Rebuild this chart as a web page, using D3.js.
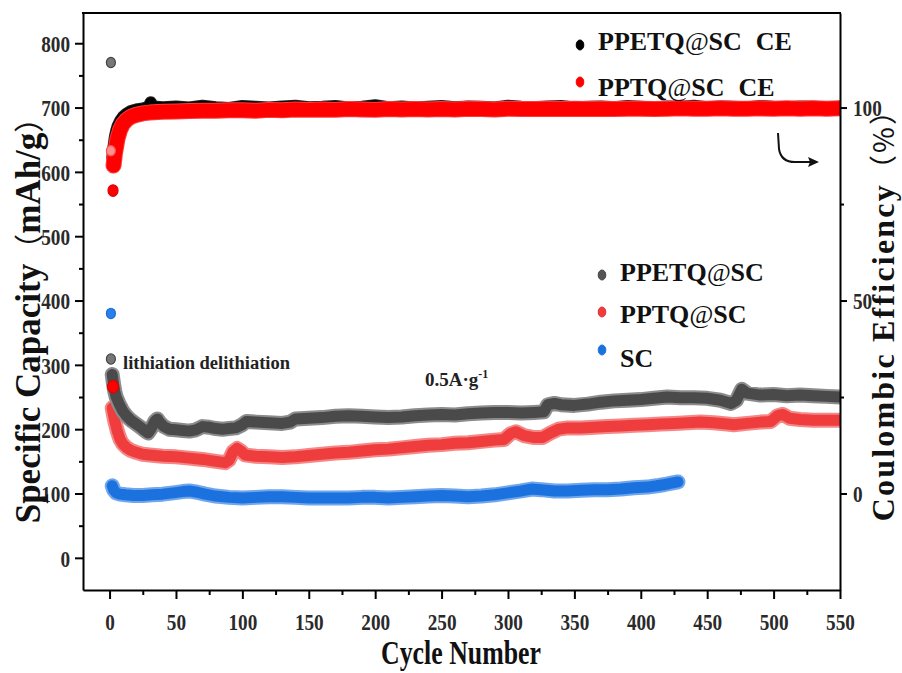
<!DOCTYPE html>
<html><head><meta charset="utf-8">
<script src="https://cdn.jsdelivr.net/npm/d3@7/dist/d3.min.js"></script>
<style>
html,body{margin:0;padding:0;background:#fff;}
svg{display:block;}
</style></head>
<body>
<svg id="chart" width="902" height="673"></svg>
<script>
// ---------------- DATA ----------------
const xTicks = [0,50,100,150,200,250,300,350,400,450,500,550];
const xMinorTicks = [25,75,125,175,225,275,325,375,425,475,525];
const yLeftTicks = [0,100,200,300,400,500,600,700,800];
const yLeftMinorTicks = [50,150,250,350,450,550,650,750];
const yRightTicks = [0,50,100];
const yRightMinorTicks = [25,75];

// first-cycle points [cycle, value]
const ppetqCapFirst = [[1,770],[1,309]];
const pptqCapFirst = [[2.6,266]];
const scCapFirst = [[1,380]];
const pptqCEFirst = [[2.6,78.5],[1,88.8]];

// PPETQ@SC specific capacity (mAh/g)
const ppetqCap = [[2,285],[3,270],[4,258],[5,250],[7,240],[10,228],[13,220],[16,214],[20,208],[24,202],[27,197],[29,194],[31,200],[34,212],[36,216],[38,210],[41,204],[45,200],[50,199],[55,198],[60,197],[65,199],[70,204],[75,203],[80,201],[85,200],[90,201],[95,202],[100,207],[103,212],[110,211],[120,210],[130,209],[136,211],[140,216],[150,217],[160,218],[170,220],[180,221],[190,220],[200,219],[210,218],[220,219],[230,221],[240,222],[250,223],[260,222],[270,224],[280,225],[290,226],[300,226],[310,225],[320,226],[327,227],[330,238],[335,240],[340,238],[350,237],[360,239],[370,242],[380,244],[390,245],[400,246],[410,248],[420,250],[430,249],[440,249],[450,248],[460,245],[468,240],[472,245],[476,262],[480,256],[490,253],[500,254],[510,252],[520,253],[530,252],[540,251],[550,250]];

// PPTQ@SC specific capacity (mAh/g)
const pptqCap = [[2,233],[3,222],[4,212],[5,204],[6,196],[8,184],[10,177],[13,171],[16,167],[20,164],[25,161],[30,160],[40,158],[50,157],[60,155],[70,153],[80,150],[87,148],[90,152],[93,165],[96,170],[99,166],[102,160],[110,158],[120,157],[130,156],[140,157],[150,159],[160,161],[170,163],[180,164],[190,166],[200,168],[210,169],[220,171],[230,173],[240,175],[250,176],[260,178],[270,179],[280,181],[290,183],[297,184],[302,193],[306,196],[312,190],[320,187],[326,187],[332,194],[338,200],[345,202],[355,202],[365,203],[375,204],[385,205],[395,206],[405,207],[415,208],[425,209],[435,210],[445,211],[455,210],[465,208],[470,207],[480,209],[490,211],[498,212],[503,221],[507,223],[512,217],[520,215],[530,214],[540,214],[550,214]];

// SC specific capacity (mAh/g)
const scCap = [[2,112],[3,106],[5,101],[8,99],[12,98],[18,97],[25,97],[32,98],[40,99],[48,101],[55,103],[60,104],[66,102],[72,99],[80,96],[90,94],[100,93],[110,94],[120,95],[130,95],[140,94],[150,93],[160,93],[170,93],[180,93],[190,94],[200,94],[210,93],[220,94],[230,95],[240,96],[250,97],[260,96],[270,95],[280,96],[290,98],[300,101],[310,104],[318,107],[325,106],[335,104],[345,104],[355,105],[365,106],[375,106],[385,107],[395,109],[405,110],[412,112],[418,114],[423,116],[428,118]];

// Coulombic efficiency (%)
const ppetqCE = [[2,87],[3,90],[4,92.5],[5,94],[6,95.2],[8,96.6],[10,97.6],[13,98.5],[16,99.1],[20,99.5],[25,99.8],[29,100.1],[31,101.4],[33,100.3],[40,100.1],[50,100.3],[60,100.0],[70,100.5],[80,100.1],[90,99.9],[100,100.4],[110,100.2],[120,100.0],[130,100.3],[140,100.5],[150,100.1],[160,100.2],[170,100.4],[180,100.0],[190,100.2],[200,100.6],[210,100.1],[220,100.3],[230,100.0],[240,100.2],[250,100.4],[260,100.1],[270,100.3],[280,100.2],[290,100.0],[300,100.5],[310,100.2],[320,100.1],[330,100.3],[340,100.4],[350,100.0],[360,100.2],[370,100.3],[380,100.1],[390,100.4],[400,100.2],[410,100.0],[420,100.3],[430,100.2],[440,100.5],[450,100.1],[460,100.3],[470,100.2],[480,100.0],[490,100.4],[500,100.2],[510,100.1],[520,100.3],[530,100.2],[540,100.0],[550,100.2]];
const pptqCE = [[3,85],[4,88],[5,90],[6,92],[8,94.3],[10,95.7],[13,96.9],[16,97.6],[20,98.1],[25,98.5],[30,98.7],[40,98.9],[50,99.0],[60,99.1],[70,99.2],[80,99.2],[90,99.3],[100,99.3],[110,99.2],[120,99.4],[130,99.3],[140,99.5],[150,99.4],[160,99.5],[170,99.4],[180,99.6],[190,99.5],[200,99.4],[210,99.6],[220,99.5],[230,99.6],[240,99.5],[250,99.6],[260,99.5],[270,99.7],[280,99.6],[290,99.5],[300,99.7],[310,99.6],[320,99.6],[330,99.7],[340,99.6],[350,99.7],[360,99.6],[370,99.7],[380,99.6],[390,99.7],[400,99.7],[410,99.6],[420,99.7],[430,99.8],[440,99.7],[450,99.7],[460,99.8],[470,99.7],[480,99.7],[490,99.8],[500,99.7],[510,99.8],[520,99.7],[530,99.8],[540,99.7],[550,99.8]];

// ---------------- CHART ----------------
const svg = d3.select("#chart");
const L = 83, R = 840, T = 13, B = 590;
const serif = "'Liberation Serif','Times New Roman',serif";
const cjk = "'Noto Sans CJK SC',sans-serif";

const x = d3.scaleLinear().domain([-20, 550]).range([L, R]);
const yL = d3.scaleLinear().domain([-50, 847]).range([B, T]);
const yR = d3.scaleLinear().domain([-25, 124.5]).range([B, T]);

svg.append("defs").append("clipPath").attr("id","plotclip")
  .append("rect").attr("x",L).attr("y",T).attr("width",R-L).attr("height",B-T);

const plot = svg.append("g").attr("clip-path","url(#plotclip)");

function band(data, yScale, outer, outerW, inner, innerW) {
  const line = d3.line().x(d => x(d[0])).y(d => yScale(d[1])).curve(d3.curveLinear);
  plot.append("path").datum(data).attr("d", line).attr("fill","none")
    .attr("stroke", outer).attr("stroke-width", outerW)
    .attr("stroke-linejoin","round").attr("stroke-linecap","round");
  plot.append("path").datum(data).attr("d", line).attr("fill","none")
    .attr("stroke", inner).attr("stroke-width", innerW)
    .attr("stroke-linejoin","round").attr("stroke-linecap","round");
}

// capacity bands
band(scCap, yL, "#6fa6ec", 15, "#1b72de", 11);
band(pptqCap, yL, "#f48787", 15, "#ef3d3d", 11);
band(ppetqCap, yL, "#8c8c8c", 15, "#4a4a4a", 11);
// CE bands
band(ppetqCE, yR, "#222", 12, "#000", 10);
band(pptqCE, yR, "#ff3a3a", 16, "#ff0000", 14);

// first-cycle points
function pts(data, yScale, fill, stroke, r) {
  plot.selectAll(null).data(data).enter().append("ellipse")
    .attr("cx", d => x(d[0])).attr("cy", d => yScale(d[1]))
    .attr("rx", r).attr("ry", r*1.15)
    .attr("fill", fill).attr("stroke", stroke).attr("stroke-width", 1.2);
}
pts(ppetqCapFirst, yL, "#777", "#444", 4.5);
pts(scCapFirst, yL, "#2a80ea", "#1a6fd8", 4.5);
pts(pptqCapFirst, yL, "#ff0000", "#e00000", 5.5);
pts([pptqCEFirst[0]], yR, "#ff0000", "#e00000", 5);
pts([pptqCEFirst[1]], yR, "#ff9090", "#ff5050", 4.5);

// ---------------- AXES ----------------
const axisStroke = 2;
function styleAxis(g) {
  g.select(".domain").attr("stroke","#000").attr("stroke-width",axisStroke);
  g.selectAll(".tick line").attr("stroke","#000").attr("stroke-width",axisStroke);
}
const sx = 0.8, tickFont = 24;

// left
const gl = svg.append("g").attr("transform",`translate(${L},0)`)
  .call(d3.axisLeft(yL).tickValues(yLeftTicks).tickSize(8).tickSizeOuter(0));
styleAxis(gl);
gl.selectAll(".tick text").attr("font-family",serif).attr("font-size",tickFont).attr("font-weight","bold")
  .attr("fill","#2a2a2a").attr("x", -13/sx).attr("dy","0.35em").attr("transform",`scale(${sx},1)`);
svg.append("g").attr("transform",`translate(${L},0)`)
  .call(d3.axisLeft(yL).tickValues(yLeftMinorTicks).tickSize(4).tickSizeOuter(0).tickFormat(""))
  .call(g => { g.select(".domain").remove(); g.selectAll("line").attr("stroke","#000").attr("stroke-width",axisStroke); });

// right
const gr = svg.append("g").attr("transform",`translate(${R},0)`)
  .call(d3.axisRight(yR).tickValues(yRightTicks).tickSize(7).tickSizeOuter(0));
styleAxis(gr);
gr.selectAll(".tick text").attr("font-family",serif).attr("font-size",tickFont).attr("font-weight","bold")
  .attr("fill","#2a2a2a").attr("x", 13/sx).attr("dy","0.35em").attr("transform",`scale(${sx},1)`);
svg.append("g").attr("transform",`translate(${R},0)`)
  .call(d3.axisRight(yR).tickValues(yRightMinorTicks).tickSize(4).tickSizeOuter(0).tickFormat(""))
  .call(g => { g.select(".domain").remove(); g.selectAll("line").attr("stroke","#000").attr("stroke-width",axisStroke); });

// bottom
const gb = svg.append("g").attr("transform",`translate(0,${B})`)
  .call(d3.axisBottom(x).tickValues(xTicks).tickSize(9).tickSizeOuter(0));
styleAxis(gb);
gb.selectAll(".tick text").attr("font-family",serif).attr("font-size",tickFont).attr("font-weight","bold")
  .attr("fill","#2a2a2a").attr("y", 40).attr("dy","0").attr("transform",`scale(${sx},1)`);
svg.append("g").attr("transform",`translate(0,${B})`)
  .call(d3.axisBottom(x).tickValues(xMinorTicks).tickSize(5).tickSizeOuter(0).tickFormat(""))
  .call(g => { g.select(".domain").remove(); g.selectAll("line").attr("stroke","#000").attr("stroke-width",axisStroke); });

// top frame
svg.append("line").attr("x1",L-1).attr("x2",R+1).attr("y1",T).attr("y2",T)
  .attr("stroke","#000").attr("stroke-width",axisStroke);

// ---------------- TEXT ----------------
// axis titles
svg.append("text").attr("transform","translate(461,664) scale(0.76,1)")
  .attr("text-anchor","middle").attr("font-family",serif).attr("font-weight","bold")
  .attr("font-size",34).attr("fill","#111").text("Cycle Number");

const ylab = svg.append("text").attr("transform","translate(40,313) rotate(-90)")
  .attr("text-anchor","middle").attr("font-family",serif).attr("font-weight","bold")
  .attr("font-size",35).attr("fill","#111");
ylab.append("tspan").text("Specific Capacity");
ylab.append("tspan").attr("font-family",cjk).attr("font-weight","normal").attr("font-size",30).text("（");
ylab.append("tspan").text("mAh/g");
ylab.append("tspan").attr("font-family",cjk).attr("font-weight","normal").attr("font-size",30).text("）");

const yrlab = svg.append("text").attr("transform","translate(894,308) rotate(-90)")
  .attr("text-anchor","middle").attr("font-family",serif).attr("font-weight","bold")
  .attr("font-size",32).attr("letter-spacing",2.2).attr("fill","#111");
yrlab.append("tspan").text("Coulombic Efficiency");
yrlab.append("tspan").attr("font-family",cjk).attr("font-weight","normal").attr("font-size",28).text("（%）");

// legends
function legendItem(cx, cy, color, stroke, tx, ty, parts) {
  svg.append("ellipse").attr("cx",cx).attr("cy",cy).attr("rx",3.8).attr("ry",5)
    .attr("fill",color).attr("stroke",stroke).attr("stroke-width",1);
  const t = svg.append("text").attr("x",tx).attr("y",ty).attr("font-family",serif)
    .attr("font-weight","bold").attr("font-size",26).attr("fill","#111");
  parts.forEach(p => {
    const s = t.append("tspan").text(p.t);
    if (p.normal) s.attr("font-weight","normal").attr("font-style","italic");
    if (p.dx) s.attr("dx", p.dx);
  });
}
legendItem(580, 45, "#000", "#000", 598, 50, [{t:"PPETQ"},{t:"@",normal:true},{t:"SC"},{t:"CE",dx:14}]);
legendItem(580, 82, "#ff0000", "#ff0000", 598, 96, [{t:"PPTQ"},{t:"@",normal:true},{t:"SC"},{t:"CE",dx:14}]);
legendItem(602, 275, "#555", "#444", 620, 281, [{t:"PPETQ"},{t:"@",normal:true},{t:"SC"}]);
legendItem(602, 312, "#f03c3c", "#e03030", 620, 323, [{t:"PPTQ"},{t:"@",normal:true},{t:"SC"}]);
legendItem(602, 350, "#1b72de", "#1b72de", 620, 367, [{t:"SC"}]);

// annotations
svg.append("text").attr("x",123).attr("y",369).attr("font-family",serif).attr("font-weight","bold")
  .attr("font-size",18.5).attr("fill","#222").text("lithiation delithiation");
const rate = svg.append("text").attr("x",425).attr("y",386).attr("font-family",serif).attr("font-weight","bold")
  .attr("font-size",19).attr("fill","#222");
rate.append("tspan").text("0.5A·g");
rate.append("tspan").attr("font-size",12).attr("dy",-8).text("-1");

// arrow to right axis
svg.append("path").attr("d","M778,133 L779,149 Q781,162 795,162 L810,162")
  .attr("fill","none").attr("stroke","#111").attr("stroke-width",2);
svg.append("path").attr("d","M819,162 L808,157 L810,162 L808,167 Z").attr("fill","#111");
</script>
</body></html>
